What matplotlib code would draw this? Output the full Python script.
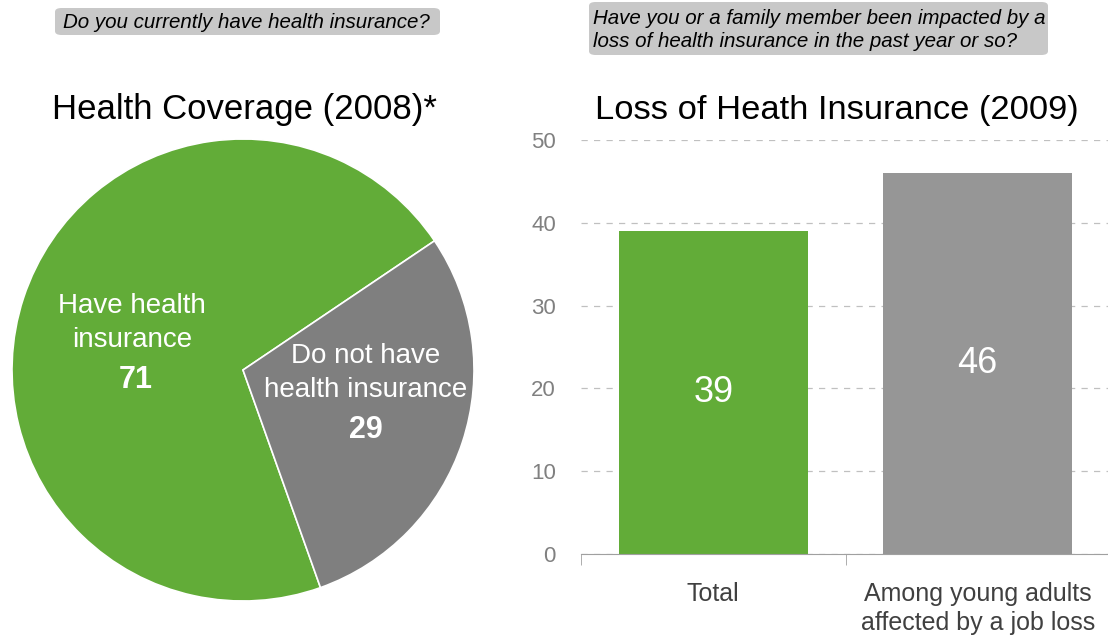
import matplotlib
matplotlib.use("Agg")
import matplotlib.pyplot as plt
from matplotlib.patches import FancyBboxPatch

plt.rcParams['font.family'] = ['Liberation Sans', 'DejaVu Sans']

# data
pie_labels = ["Have health\ninsurance", "Do not have\nhealth insurance"]
pie_values = [71, 29]
bar_categories = ["Total", "Among young adults\naffected by a job loss"]
bar_values = [39, 46]
y_ticks = [0, 10, 20, 30, 40, 50]

green = "#62ac38"
pie_gray = "#7f7f7f"
bar_gray = "#969696"

W, H = 1108, 636
fig = plt.figure(figsize=(W / 100, H / 100), dpi=100)

def px(x0, y0, x1, y1):
    # pixel box (top-left origin) -> figure fraction rect
    return [x0 / W, 1 - y1 / H, (x1 - x0) / W, (y1 - y0) / H]

# ---- pie ----
cx, cy, r = 243, 370, 231
axp = fig.add_axes(px(cx - r, cy - r, cx + r, cy + r))
wedges, _ = axp.pie(pie_values, colors=[green, pie_gray], startangle=34,
                    counterclock=True, radius=1,
                    wedgeprops=dict(edgecolor="white", linewidth=1.2))
axp.set_xlim(-1, 1)
axp.set_ylim(-1, 1)
axp.set_aspect("equal")
axp.axis("off")

fig.text(132 / W, 1 - 323 / H, pie_labels[0], color="white", fontsize=20,
         ha="center", va="center", linespacing=1.4)
fig.text(136 / W, 1 - 380 / H, str(pie_values[0]), color="white", fontsize=22,
         fontweight="bold", ha="center", va="center")
fig.text(366 / W, 1 - 373 / H, pie_labels[1], color="white", fontsize=20,
         ha="center", va="center", linespacing=1.4)
fig.text(366 / W, 1 - 430 / H, str(pie_values[1]), color="white", fontsize=22,
         fontweight="bold", ha="center", va="center")

fig.text(244 / W, 1 - 110 / H, "Health Coverage (2008)*", fontsize=25,
         ha="center", va="center", color="black")

# ---- bars ----
axb = fig.add_axes(px(581, 140, 1110, 554))
x = list(range(len(bar_categories)))
bars = axb.bar(x, bar_values, width=0.715, color=[green, bar_gray], zorder=2)
axb.set_xlim(-0.5, 1.5)
axb.set_ylim(0, 50)
axb.set_yticks(y_ticks)
axb.set_xticks(x)
axb.set_xticklabels(bar_categories, fontsize=18, color="#404040", linespacing=1.25)
axb.set_xticks([-0.5, 0.5, 1.5], minor=True)
axb.tick_params(axis="x", which="major", length=0, pad=20)
axb.tick_params(axis="x", which="minor", length=8, color="#a0a0a0", direction="out")
axb.tick_params(axis="y", length=0, labelsize=16, labelcolor="#808080", pad=18)
for s in ["top", "right", "left"]:
    axb.spines[s].set_visible(False)
axb.spines["bottom"].set_color("#a0a0a0")
axb.yaxis.grid(True, linestyle=(0, (5, 5)), color="#c0c0c0", linewidth=0.9, zorder=0)
axb.set_axisbelow(True)
for b, v in zip(bars, bar_values):
    axb.text(b.get_x() + b.get_width() / 2, v / 2, str(v),
             color="white", fontsize=26, ha="center", va="center")

fig.text(837 / W, 1 - 110 / H, "Loss of Heath Insurance (2009)", fontsize=24.8,
         ha="center", va="center", color="black")

# ---- question boxes ----
def qbox(x0, y0, x1, y1, text, tx, ty):
    box = FancyBboxPatch((x0 / W, 1 - y1 / H), (x1 - x0) / W, (y1 - y0) / H,
                         boxstyle="round,pad=0,rounding_size=0.006",
                         transform=fig.transFigure, facecolor="#c8c8c8",
                         edgecolor="none")
    fig.patches.append(box)
    fig.text(tx / W, 1 - ty / H, text, fontsize=14.8, style="italic",
             ha="left", va="center", color="black", linespacing=1.25)

qbox(55, 8, 440, 35, "Do you currently have health insurance?", 63, 22)
qbox(589, 2, 1048, 55,
     "Have you or a family member been impacted by a\nloss of health insurance in the past year or so?",
     593, 30)

fig.savefig("out.png", dpi=100)
